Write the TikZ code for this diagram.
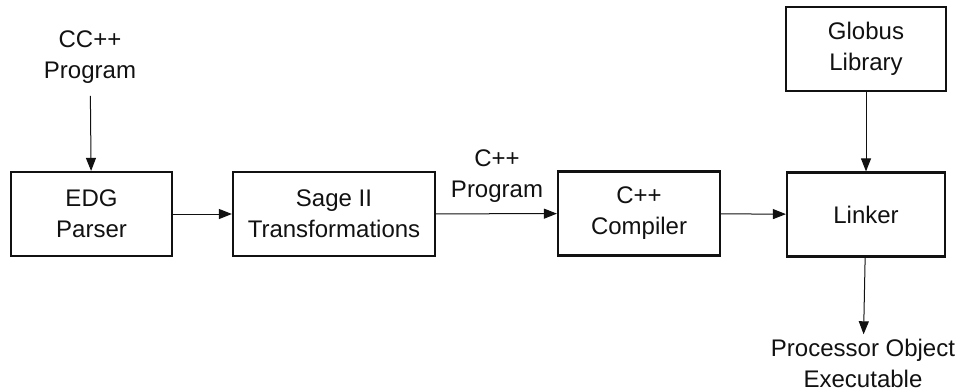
\documentclass[tikz,border=0pt]{standalone}
\usepackage{fontspec}
\setmainfont{Liberation Sans}
\usepackage{xcolor}
\usetikzlibrary{arrows.meta}
\definecolor{ink}{HTML}{111111}
\tikzset{
  stage/.style={draw=ink, line width=1.1pt, text=ink, align=center,
    minimum height=42pt, inner sep=2pt,
    font=\fontsize{12}{15.5}\selectfont},
  label/.style={text=ink, align=center, inner sep=2pt,
    font=\fontsize{12}{15.5}\selectfont},
  flow/.style={draw=ink, line width=0.5pt,
    -{Triangle[length=6.5pt,width=5pt]}}
}
\begin{document}
\begin{tikzpicture}[x=0.5pt,y=-0.5pt]
  \useasboundingbox (0,0) rectangle (967,391);

  % source and input
  \node[label] (ccin) at (90,57) {CC++\\Program};
  \node[stage, minimum width=80.5pt] (edg) at (91.5,214) {EDG\\Parser};

  % translation chain
  \node[stage, minimum width=101pt] (sage) at (334,214) {Sage II\\Transformations};
  \node[label] (cpp) at (497,176) {C++\\Program};
  \node[stage, minimum width=81pt] (cxx) at (639,213.5) {C++\\Compiler};

  % linking
  \node[stage, minimum width=80pt] (globus) at (866,49) {Globus\\Library};
  \node[stage, minimum width=79pt] (linker) at (866,214.5) {Linker};
  \node[label] (exe) at (863,363) {Processor Object\\Executable};

  \draw[flow, shorten <=4pt] (ccin) -- (edg);
  \draw[flow] (edg) -- (sage);
  \draw[flow] (sage) -- (cxx);
  \draw[flow] (cxx) -- (linker);
  \draw[flow] (globus) -- (linker);
  \draw[flow] (linker) -- (exe);
\end{tikzpicture}
\end{document}
